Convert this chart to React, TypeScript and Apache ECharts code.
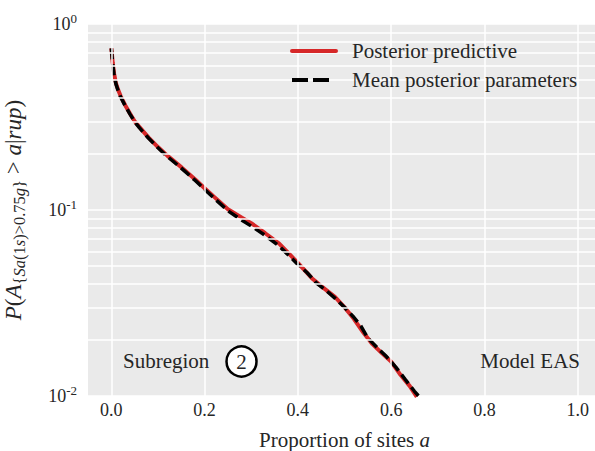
import React, { useEffect, useRef } from "react";
import * as echarts from "echarts";

// Tick values / labels
const xTickValues = [0, 0.2, 0.4, 0.6, 0.8, 1.0];
const yMinorGrid = [0.02, 0.03, 0.04, 0.05, 0.06, 0.07, 0.08, 0.09, 0.2, 0.3, 0.4, 0.5, 0.6, 0.7, 0.8, 0.9];
const seriesNames = ["Posterior predictive", "Mean posterior parameters"];

// Posterior predictive (red, solid)
const predX = [0, 0.001, 0.003, 0.006, 0.01, 0.015, 0.02, 0.03, 0.04, 0.05, 0.06, 0.08, 0.10, 0.12, 0.15, 0.18, 0.20, 0.22, 0.25, 0.28, 0.30, 0.33, 0.36, 0.40, 0.43, 0.45, 0.48, 0.50, 0.52, 0.54, 0.56, 0.58, 0.60, 0.62, 0.64, 0.655];
const predY = [0.74, 0.70, 0.62, 0.54, 0.48, 0.44, 0.41, 0.365, 0.33, 0.30, 0.28, 0.245, 0.218, 0.196, 0.170, 0.146, 0.131, 0.118, 0.101, 0.091, 0.085, 0.075, 0.066, 0.052, 0.043, 0.039, 0.034, 0.030, 0.026, 0.022, 0.019, 0.017, 0.0153, 0.013, 0.0113, 0.0099];

// Mean posterior parameters (black, dashed)
const meanX = [0, 0.001, 0.003, 0.006, 0.01, 0.015, 0.02, 0.03, 0.04, 0.05, 0.06, 0.08, 0.10, 0.12, 0.15, 0.18, 0.20, 0.22, 0.25, 0.28, 0.30, 0.33, 0.36, 0.40, 0.42, 0.44, 0.46, 0.48, 0.50, 0.52, 0.535, 0.55, 0.57, 0.59, 0.61, 0.63, 0.65, 0.662];
const meanY = [0.74, 0.69, 0.61, 0.53, 0.475, 0.435, 0.405, 0.362, 0.328, 0.298, 0.277, 0.243, 0.216, 0.194, 0.168, 0.144, 0.129, 0.116, 0.099, 0.088, 0.082, 0.073, 0.064, 0.051, 0.046, 0.0405, 0.037, 0.0335, 0.030, 0.0265, 0.0238, 0.0205, 0.0182, 0.0163, 0.0143, 0.0123, 0.0106, 0.0098];

const SERIF = "'Liberation Serif', 'Times New Roman', serif";
const TXT = "#262626";
const RED = "#D62728";

export default function App() {
  const ref = useRef<HTMLDivElement>(null);
  useEffect(() => {
    document.body.style.margin = "0";
    const chart = echarts.init(ref.current!, null, { renderer: "svg" });
    const pred = predX.map((x, i) => [x, predY[i]]);
    const mean = meanX.map((x, i) => [x, meanY[i]]);
    const gridLines = [
      ...xTickValues.map((v) => ({ xAxis: v })),
      ...yMinorGrid.map((v) => ({ yAxis: v })),
    ];
    const mainStyle = { fontFamily: SERIF, fontSize: 23, color: TXT, padding: [0, 0, 11, 0] };
    const subStyle = { fontFamily: SERIF, fontSize: 16.5, color: TXT };
    const txt = (text: string, x: number, y: number, align: string) => ({
      type: "text", x, y, z: 10,
      style: { text, fill: TXT, font: `21px ${SERIF}`, textAlign: align, textVerticalAlign: "middle" },
    });
    const option: any = {
      animation: false,
      grid: {
        left: 88, top: 24, right: -6, bottom: 55,
        containLabel: false, outerBoundsMode: "none",
        show: true, backgroundColor: "#EAEAEA", borderWidth: 0,
      },
      xAxis: {
        type: "value", min: -0.05, max: 1.05,
        axisLine: { show: false }, axisTick: { show: false }, splitLine: { show: false },
        axisLabel: {
          customValues: xTickValues,
          formatter: (v: number) => v.toFixed(1),
          fontFamily: SERIF, fontSize: 18, color: TXT, margin: 5,
        },
        name: "{t|Proportion of sites }{i|a}",
        nameLocation: "middle", nameGap: 33,
        nameTextStyle: {
          fontFamily: SERIF, fontSize: 21, color: TXT,
          rich: {
            t: { fontFamily: SERIF, fontSize: 21, color: TXT },
            i: { fontFamily: SERIF, fontSize: 21, color: TXT, fontStyle: "italic" },
          },
        },
      },
      yAxis: {
        type: "log", logBase: 10, min: 0.01, max: 1,
        axisLine: { show: false }, axisTick: { show: false },
        splitLine: { show: true, lineStyle: { color: "#FFFFFF", width: 1.5 } },
        axisLabel: {
          margin: 11,
          formatter: (v: number) => `{b|10}{s|${Math.round(Math.log10(v))}}`,
          rich: {
            b: { fontFamily: SERIF, fontSize: 18, color: TXT },
            s: { fontFamily: SERIF, fontSize: 13, color: TXT, padding: [0, 0, 12, 0] },
          },
        },
        name: "{m|P}{u|(}{m|A}{su|{}{si|Sa}{su|(1}{si|s}{su|)>0.75}{si|g}}{u| > }{m|a}{u||}{m|rup}{u|)}",
        nameLocation: "middle", nameRotate: 90, nameGap: 52,
        nameTextStyle: {
          fontFamily: SERIF, fontSize: 16.5, color: TXT,
          rich: {
            m: { ...mainStyle, fontStyle: "italic" },
            u: { ...mainStyle, fontStyle: "normal" },
            su: { ...subStyle, fontStyle: "normal" },
            si: { ...subStyle, fontStyle: "italic" },
          },
        },
      },
      series: [
        {
          type: "line", name: "grid", data: pred, z: 1, silent: true,
          symbol: "none", lineStyle: { opacity: 0 },
          markLine: {
            silent: true, symbol: "none", animation: false,
            label: { show: false },
            lineStyle: { color: "#FFFFFF", width: 1.5, type: "solid" },
            data: gridLines,
          },
        },
        {
          type: "line", name: seriesNames[0], data: pred, z: 3,
          symbol: "none", lineStyle: { color: RED, width: 4 },
          itemStyle: { color: RED },
        },
        {
          type: "line", name: seriesNames[1], data: mean, z: 4,
          symbol: "none", lineStyle: { color: "#000000", width: 3.5, type: [11, 5] },
          itemStyle: { color: "#000000" },
        },
      ],
      graphic: [
        {
          type: "line", z: 10, shape: { x1: 292, y1: 51, x2: 336, y2: 51 },
          style: { stroke: RED, lineWidth: 4, lineCap: "round" },
        },
        {
          type: "line", z: 10, shape: { x1: 292, y1: 80, x2: 329, y2: 80 },
          style: { stroke: "#000000", lineWidth: 4, lineDash: [16, 5] },
        },
        txt(seriesNames[0], 352, 51, "left"),
        txt(seriesNames[1], 352, 80, "left"),
        txt("Subregion", 123, 361, "left"),
        {
          type: "circle", z: 10, shape: { cx: 241.5, cy: 361.5, r: 15 },
          style: { fill: "#FFFFFF", stroke: "#000000", lineWidth: 2.5 },
        },
        { ...txt("2", 241.5, 362, "center"), z: 11 },
        txt("Model EAS", 580, 361, "right"),
      ],
    };
    chart.setOption(option);
    return () => chart.dispose();
  }, []);
  return <div ref={ref} style={{ width: 595, height: 451 }} />;
}
